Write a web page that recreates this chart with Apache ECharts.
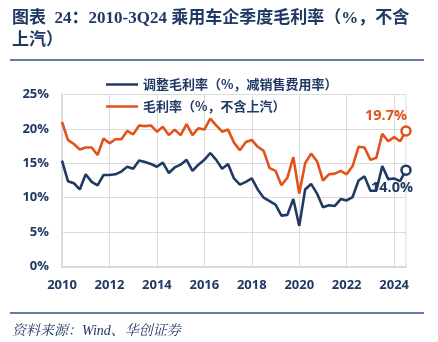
<!DOCTYPE html>
<html><head><meta charset="utf-8">
<script src="https://cdn.jsdelivr.net/npm/echarts@6/dist/echarts.min.js"></script>
<style>html,body{margin:0;padding:0;background:#fff}#c{width:438px;height:342px}</style>
</head><body><div id="c"></div>
<script>
// Quarterly categories 1Q10 .. 3Q24
const categories = [];
for (let y = 10; y <= 24; y++) { for (let q = 1; q <= 4; q++) { if (y === 24 && q === 4) break; categories.push(q + 'Q' + y); } }
const yTicks = [0, 5, 10, 15, 20, 25];
const nameAdj = '调整毛利率（%，减销售费用率）';
const nameGross = '毛利率（%，不含上汽）';
const adjMargin = [15.4,12.4,12.1,11.2,13.4,12.3,11.8,13.3,13.3,13.4,
  13.8,14.5,14.2,15.4,15.2,14.9,14.5,15.1,13.6,14.4,
  14.8,15.5,13.9,14.8,15.5,16.5,15.5,14.2,14.9,12.8,
  11.9,12.3,12.8,11.2,10.0,9.5,9.0,7.4,7.5,9.8,
  5.9,11.2,12.0,10.6,8.6,8.9,8.8,9.8,9.6,10.1,
  12.5,13.1,11.0,11.0,14.6,12.7,12.8,12.4,14.0];
const grossMargin = [21.0,18.4,17.8,17.0,17.3,17.3,16.2,18.6,17.9,18.5,
  18.5,19.7,19.2,20.5,20.4,20.5,19.6,20.3,19.1,19.9,
  19.1,20.7,19.1,20.1,19.9,21.5,20.5,19.6,19.9,18.0,
  16.9,18.1,18.4,17.4,16.8,14.3,13.9,11.8,12.9,15.9,
  10.6,15.0,16.4,15.3,12.5,13.4,13.5,13.9,13.4,14.6,
  17.4,17.3,15.5,15.8,19.3,18.2,18.8,18.2,19.7];

const NAVY = '#1f3864', LINE_NAVY = '#203a62', ORANGE = '#e2521a';
const numFont = '"Open Sans","Noto Sans",sans-serif';

function withEndMarker(arr, color, label) {
  return arr.map((v, i) => i === arr.length - 1 ? {
    value: v, symbol: 'circle', symbolSize: 9,
    itemStyle: { color: '#fff', borderColor: color, borderWidth: 2.5 },
    label: Object.assign({ show: true, formatter: p => p.value.toFixed(1) + '%', color: color,
      fontFamily: numFont, fontWeight: 'bold', fontSize: 14.5 }, label)
  } : v);
}

const chart = echarts.init(document.getElementById('c'), null, { renderer: 'canvas' });
chart.setOption({
  animation: false,
  grid: { left: 62, right: 32, top: 94.5, bottom: 75.5, show: true, borderColor: '#dcdcdc', borderWidth: 1 },
  legend: [
    { data: [nameAdj], left: 101, top: 73, icon: 'rect', itemWidth: 32, itemHeight: 2.5,
      textStyle: { color: NAVY, fontSize: 13, fontWeight: 'bold', fontFamily: '"Noto Sans CJK SC",sans-serif' } },
    { data: [nameGross], left: 101, top: 95, icon: 'rect', itemWidth: 32, itemHeight: 2.5,
      textStyle: { color: NAVY, fontSize: 13, fontWeight: 'bold', fontFamily: '"Noto Sans CJK SC",sans-serif' } }
  ],
  xAxis: {
    type: 'category', data: categories, boundaryGap: false,
    axisLine: { show: true, lineStyle: { color: '#d9d9d9', width: 2 } },
    axisTick: { show: false },
    axisLabel: { interval: 7, margin: 12, color: NAVY, fontSize: 13, fontWeight: 'bold', fontFamily: numFont,
      formatter: v => '20' + v.slice(2) },
    splitLine: { show: true, interval: 7, lineStyle: { color: '#dcdcdc', width: 1 } }
  },
  yAxis: {
    type: 'value', min: yTicks[0], max: yTicks[yTicks.length - 1], interval: 5,
    axisLine: { show: true, lineStyle: { color: '#d9d9d9', width: 1.5 } },
    axisTick: { show: false },
    axisLabel: { margin: 13, color: NAVY, fontSize: 13, fontWeight: 'bold', fontFamily: numFont, formatter: '{value}%' },
    splitLine: { show: true, lineStyle: { color: '#dcdcdc', width: 1 } }
  },
  series: [
    { name: nameAdj, type: 'line', color: LINE_NAVY, symbol: 'none', showAllSymbol: true, z: 3,
      lineStyle: { width: 2.6, color: LINE_NAVY },
      data: withEndMarker(adjMargin, LINE_NAVY, { position: 'bottom', distance: 4, offset: [-14, 0] }) },
    { name: nameGross, type: 'line', color: ORANGE, symbol: 'none', showAllSymbol: true, z: 2,
      lineStyle: { width: 2.6, color: ORANGE },
      data: withEndMarker(grossMargin, ORANGE, { position: 'top', distance: 2, align: 'right', offset: [1, 0] }) }
  ],
  graphic: [
    { type: 'text', left: 12, top: 10, style: { text: '图表  24：2010-3Q24 乘用车企季度毛利率（%，不含', fill: NAVY,
      font: 'bold 17px "Liberation Serif","Noto Sans CJK SC",serif' } },
    { type: 'text', left: 12, top: 32, style: { text: '上汽）', fill: NAVY,
      font: 'bold 17px "Liberation Serif","Noto Sans CJK SC",serif' } },
    { type: 'line', shape: { x1: 10, y1: 60, x2: 424, y2: 60 }, style: { stroke: '#2f4f8a', lineWidth: 1.5 } },
    { type: 'line', shape: { x1: 10, y1: 313, x2: 424, y2: 313 }, style: { stroke: '#2f4f8a', lineWidth: 1.5 } },
    { type: 'text', left: 12, top: 324, style: { text: '资料来源：Wind、华创证券', fill: NAVY,
      font: 'italic 14px "Liberation Serif","Noto Serif CJK SC","Noto Sans CJK SC",serif' } }
  ]
});
</script></body></html>
